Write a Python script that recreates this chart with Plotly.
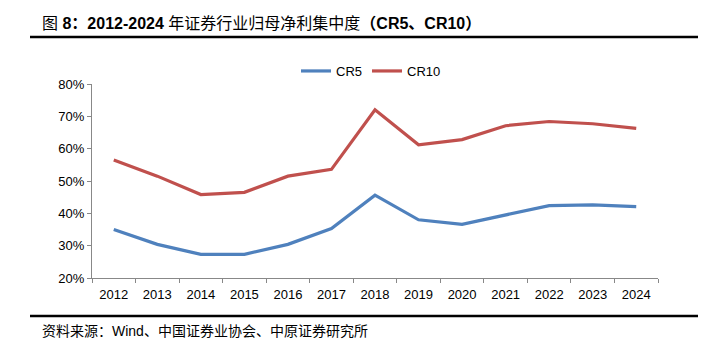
import plotly.graph_objects as go

years = ["2012", "2013", "2014", "2015", "2016", "2017", "2018",
         "2019", "2020", "2021", "2022", "2023", "2024"]
cr5 = [35.0, 30.4, 27.3, 27.3, 30.4, 35.3, 45.6, 38.0, 36.6, 39.6, 42.4, 42.6, 42.1]
cr10 = [56.5, 51.5, 45.8, 46.5, 51.5, 53.6, 72.0, 61.2, 62.8, 67.1, 68.4, 67.7, 66.3]
y_ticks = [20, 30, 40, 50, 60, 70, 80]
y_tick_text = ["20%", "30%", "40%", "50%", "60%", "70%", "80%"]

title_html = "图 <b>8：2012-2024</b> 年证券行业归母净利集中度<b>（CR5、CR10）</b>"
source_text = "资料来源：Wind、中国证券业协会、中原证券研究所"

W, H = 724, 350
L, R, T, B = 92, 66, 84, 72
pw, ph = W - L - R, H - T - B

def px_x(x):
    return (x - L) / pw

def px_y(y):
    return (H - B - y) / ph

fig = go.Figure()
fig.add_trace(go.Scatter(x=years, y=cr5, name="CR5", mode="lines",
                         line=dict(color="#4F81BD", width=3.2)))
fig.add_trace(go.Scatter(x=years, y=cr10, name="CR10", mode="lines",
                         line=dict(color="#C0504D", width=3.2)))

base_font = "Liberation Sans, Arial, Noto Sans CJK SC, sans-serif"

fig.update_layout(
    width=W, height=H,
    margin=dict(l=L, r=R, t=T, b=B),
    paper_bgcolor="white", plot_bgcolor="white",
    font=dict(family=base_font, size=13, color="#000000"),
    showlegend=True,
    legend=dict(orientation="h", x=px_x(296), xanchor="left", y=px_y(71), yanchor="middle",
                font=dict(size=13), itemwidth=30, tracegroupgap=0,
                bgcolor="rgba(0,0,0,0)"),
    hovermode=False,
    xaxis=dict(type="category", showgrid=False, showline=True, linecolor="#888888",
               linewidth=1, ticks="outside", tickson="boundaries", ticklen=4,
               tickcolor="#888888", tickfont=dict(size=13), zeroline=False,
               range=[-0.5, 12.5], ticklabelstandoff=4),
    yaxis=dict(range=[20, 80], tickvals=y_ticks, ticktext=y_tick_text, showgrid=False,
               showline=True, linecolor="#888888", linewidth=1, ticks="outside",
               ticklen=4, tickcolor="#888888", tickfont=dict(size=13), zeroline=False),
)

# Title and rules
fig.add_annotation(text=title_html, xref="paper", yref="paper",
                   x=px_x(40), y=px_y(23), xanchor="left", yanchor="middle",
                   showarrow=False,
                   font=dict(family="Liberation Sans, Noto Sans CJK SC, sans-serif", size=16))
fig.add_shape(type="line", xref="paper", yref="paper",
              x0=px_x(30), x1=px_x(698), y0=px_y(37), y1=px_y(37),
              line=dict(color="#000000", width=2.5))
fig.add_shape(type="line", xref="paper", yref="paper",
              x0=px_x(30), x1=px_x(698), y0=px_y(316), y1=px_y(316),
              line=dict(color="#000000", width=2.5))
fig.add_annotation(text=source_text, xref="paper", yref="paper",
                   x=px_x(40), y=px_y(331), xanchor="left", yanchor="middle",
                   showarrow=False,
                   font=dict(family="Liberation Sans, Noto Sans CJK SC, sans-serif", size=14))

fig.write_html("out.html")
